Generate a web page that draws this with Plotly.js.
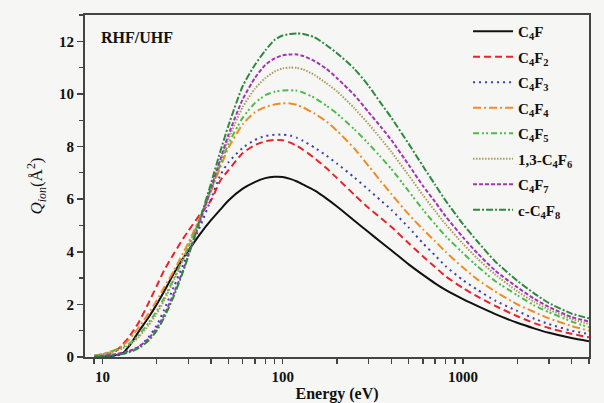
<!DOCTYPE html>
<html>
<head>
<meta charset="utf-8">
<script src="https://cdn.plot.ly/plotly-3.0.1.min.js"></script>
<style>html,body{margin:0;padding:0;background:#f6f6f4;}#chart{width:604px;height:403px;}</style>
</head>
<body>
<div id="chart"></div>
<script>
// Energy grid (eV)
const energy = [9, 10, 11, 12, 13, 14, 15, 16, 18, 20, 22, 25, 28, 30, 35, 40, 45, 50, 60, 70, 80, 90, 100, 110, 120, 130, 150, 175, 200, 250, 300, 350, 400, 500, 600, 700, 800, 1000, 1200, 1500, 2000, 2500, 3000, 4000, 5000];

const seriesNames = ["C<sub>4</sub>F", "C<sub>4</sub>F<sub>2</sub>", "C<sub>4</sub>F<sub>3</sub>", "C<sub>4</sub>F<sub>4</sub>", "C<sub>4</sub>F<sub>5</sub>", "1,3-C<sub>4</sub>F<sub>6</sub>", "C<sub>4</sub>F<sub>7</sub>", "c-C<sub>4</sub>F<sub>8</sub>"];

const qC4F   = [0, 0, 0.02, 0.08, 0.15, 0.4, 0.7, 1.0, 1.5, 2.0, 2.5, 3.2, 3.75, 4.05, 4.7, 5.2, 5.6, 5.95, 6.4, 6.65, 6.8, 6.85, 6.84, 6.77, 6.67, 6.55, 6.33, 6.02, 5.72, 5.18, 4.74, 4.37, 4.06, 3.52, 3.12, 2.8, 2.55, 2.2, 1.94, 1.64, 1.3, 1.08, 0.92, 0.72, 0.6];
const qC4F2  = [0, 0.02, 0.12, 0.25, 0.5, 0.75, 1.05, 1.35, 2.05, 2.7, 3.3, 3.95, 4.5, 4.8, 5.45, 5.95, 6.7, 7.1, 7.75, 8.05, 8.2, 8.25, 8.24, 8.15, 8.02, 7.87, 7.56, 7.17, 6.8, 6.16, 5.66, 5.28, 4.95, 4.32, 3.82, 3.42, 3.07, 2.62, 2.3, 1.95, 1.55, 1.28, 1.1, 0.88, 0.75];
const qC4F3  = [0, 0, 0.02, 0.06, 0.12, 0.2, 0.3, 0.4, 0.75, 1.2, 1.8, 2.7, 3.5, 4.0, 5.0, 6.0, 6.9, 7.4, 7.95, 8.25, 8.4, 8.45, 8.45, 8.42, 8.33, 8.21, 7.96, 7.65, 7.35, 6.82, 6.35, 5.95, 5.6, 4.92, 4.32, 3.86, 3.46, 2.92, 2.56, 2.15, 1.75, 1.45, 1.25, 1.0, 0.87];
const qC4F4  = [0.05, 0.12, 0.2, 0.3, 0.45, 0.65, 0.9, 1.15, 1.65, 2.15, 2.65, 3.3, 3.95, 4.35, 5.35, 6.3, 7.2, 7.95, 8.85, 9.3, 9.5, 9.6, 9.64, 9.64, 9.58, 9.48, 9.25, 8.95, 8.6, 7.92, 7.25, 6.68, 6.2, 5.42, 4.85, 4.4, 4.0, 3.4, 2.95, 2.5, 2.0, 1.7, 1.47, 1.18, 1.0];
const qC4F5  = [0.05, 0.1, 0.18, 0.28, 0.38, 0.5, 0.65, 0.85, 1.3, 1.75, 2.25, 3.0, 3.75, 4.2, 5.3, 6.35, 7.3, 8.1, 9.1, 9.65, 9.95, 10.08, 10.13, 10.14, 10.12, 10.05, 9.85, 9.55, 9.25, 8.65, 8.1, 7.6, 7.15, 6.3, 5.6, 5.05, 4.6, 3.95, 3.45, 2.9, 2.35, 1.95, 1.7, 1.35, 1.13];
const qC4F6  = [0.05, 0.1, 0.15, 0.25, 0.33, 0.45, 0.6, 0.78, 1.2, 1.65, 2.15, 2.95, 3.7, 4.2, 5.35, 6.45, 7.45, 8.3, 9.5, 10.2, 10.6, 10.85, 10.97, 11.0, 10.99, 10.93, 10.72, 10.4, 10.1, 9.45, 8.85, 8.3, 7.8, 6.9, 6.15, 5.55, 5.05, 4.3, 3.75, 3.15, 2.5, 2.08, 1.8, 1.45, 1.25];
const qC4F7  = [0.02, 0.05, 0.08, 0.12, 0.17, 0.23, 0.3, 0.4, 0.7, 1.1, 1.6, 2.45, 3.3, 3.9, 5.2, 6.4, 7.5, 8.45, 9.8, 10.6, 11.1, 11.35, 11.47, 11.5, 11.5, 11.44, 11.25, 10.95, 10.6, 9.95, 9.3, 8.75, 8.25, 7.3, 6.5, 5.9, 5.35, 4.55, 3.95, 3.3, 2.65, 2.2, 1.9, 1.52, 1.35];
const qC4F8  = [0, 0.02, 0.05, 0.08, 0.12, 0.18, 0.25, 0.35, 0.62, 1.0, 1.5, 2.35, 3.25, 3.85, 5.3, 6.6, 7.8, 8.8, 10.3, 11.1, 11.65, 12.05, 12.22, 12.28, 12.3, 12.28, 12.15, 11.85, 11.55, 10.95, 10.3, 9.65, 9.1, 8.1, 7.25, 6.55, 5.95, 5.05, 4.4, 3.65, 2.9, 2.4, 2.05, 1.65, 1.47];

const yTickVals = [0, 2, 4, 6, 8, 10, 12];
const xTickVals = [10, 100, 1000];
const xMinorTicks = [9, 20, 30, 40, 50, 60, 70, 80, 90, 200, 300, 400, 500, 600, 700, 800, 900, 2000, 3000, 4000, 5000];

const allQ = [qC4F, qC4F2, qC4F3, qC4F4, qC4F5, qC4F6, qC4F7, qC4F8];
const colors = ["#111111", "#e8232b", "#3b3fb0", "#f08c28", "#4dba4a", "#a89c5c", "#a234b4", "#2b8a3e"];
const dashes = ["solid", "7px,4px", "2px,4px", "8px,3px,2px,3px", "6px,3px,2px,2px,2px,3px", "1.5px,1.5px", "4px,2px", "7px,2px,2px,2px"];

const traces = allQ.map((q, i) => ({
  x: energy, y: q, name: "<b>" + seriesNames[i] + "</b>", type: "scatter", mode: "lines",
  legendgroup: "g" + i,
  line: {color: colors[i], width: 2, dash: dashes[i], shape: "spline", smoothing: 0.6}
}));

const allXTicks = xTickVals.concat(xMinorTicks);
const allXText = xTickVals.map(v => "<b>" + v + "</b>").concat(xMinorTicks.map(() => ""));

const serif = "Liberation Serif";
const layout = {
  width: 604, height: 403,
  margin: {l: 85, r: 15, t: 15, b: 46},
  paper_bgcolor: "#f6f6f4", plot_bgcolor: "#f6f6f4",
  showlegend: true,
  legend: {x: 0.76, y: 1.0, xanchor: "left", yanchor: "top", bgcolor: "rgba(0,0,0,0)",
    font: {family: serif, size: 15, color: "#111"}, tracegroupgap: 3, itemwidth: 40},
  xaxis: {type: "log", range: [Math.log10(8), Math.log10(5000)], tickvals: allXTicks, ticktext: allXText,
    ticks: "outside", ticklen: 5, tickwidth: 1.5, tickcolor: "#444", showline: true, linecolor: "#444", linewidth: 2, mirror: true,
    showgrid: false, zeroline: false,
    tickfont: {family: serif, size: 15, color: "#111", weight: "bold"},
    title: {text: "<b>Energy (eV)</b>", font: {family: serif, size: 16, color: "#111"}, standoff: 6}},
  yaxis: {range: [0, 13], tickvals: yTickVals, ticktext: yTickVals.map(v => "<b>" + v + "</b>"),
    ticks: "outside", ticklen: 6, tickwidth: 1.5, tickcolor: "#444",
    showline: true, linecolor: "#444", linewidth: 2, mirror: true, showgrid: false, zeroline: false,
    minor: {ticks: "outside", ticklen: 4, tickwidth: 1.2, tickcolor: "#444", dtick: 1, showgrid: false},
    tickfont: {family: serif, size: 15, color: "#111", weight: "bold"},
    title: {text: "<i>Q</i><sub><i>ion</i></sub>(Å<sup>2</sup>)", font: {family: serif, size: 17, color: "#111"}, standoff: 12}},
  annotations: [{text: "<b>RHF/UHF</b>", xref: "paper", yref: "paper", x: 0.028, y: 0.965, xanchor: "left", yanchor: "top",
    showarrow: false, font: {family: serif, size: 16, color: "#111"}}]
};

Plotly.newPlot("chart", traces, layout, {displayModeBar: false, staticPlot: true});
</script>
</body>
</html>
